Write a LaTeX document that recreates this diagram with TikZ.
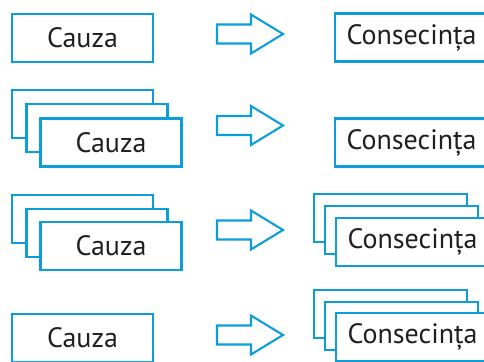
\documentclass[tikz,border=0pt]{standalone}
\usepackage{fontspec}
\setmainfont{PT Sans}
\definecolor{boxblue}{RGB}{12,158,218}
\definecolor{txt}{RGB}{35,31,32}
\tikzset{
  cbox/.style={draw=boxblue, line width=2.1pt, fill=white, minimum width=141pt, minimum height=48pt, inner sep=0pt, text=txt, font=\fontsize{28}{30}\selectfont},
  kbox/.style={cbox, minimum width=153pt},
  blockarrow/.pic={\draw[draw=boxblue, line width=2.1pt, line join=miter] (-33,-9.5) -- (1,-9.5) -- (1,-19.5) -- (33,0) -- (1,19.5) -- (1,9.5) -- (-33,9.5) -- cycle;}
}
\begin{document}
\begin{tikzpicture}[x=1pt,y=-1pt]
\clip (0,0) rectangle (484,361);
\useasboundingbox (0,0) rectangle (484,361);
% Row 1
\node[cbox] (c1) at (82.5,38) {Cauza};
\pic at (250,34) {blockarrow};
\node[kbox] (k1) at (411.5,37.5) {Consecința};
% Row 2
\node[cbox] (c2a) at (82.5,114) {};
\node[cbox] (c2b) at (97,128) {};
\node[cbox] (c2c) at (111,142.5) {Cauza};
\pic at (250,125.5) {blockarrow};
\node[kbox] (k2) at (411.5,142.5) {Consecința};
% Row 3
\node[cbox] (c3a) at (82.5,219) {};
\node[cbox] (c3b) at (97,233) {};
\node[cbox] (c3c) at (111,246) {Cauza};
\pic at (250,230) {blockarrow};
\node[kbox] (k3a) at (390.5,218) {};
\node[kbox] (k3b) at (401.5,230) {};
\node[kbox] (k3c) at (412.5,242) {Consecința};
% Row 4
\node[cbox] (c4) at (82.5,338) {Cauza};
\pic at (250,335) {blockarrow};
\node[kbox] (k4a) at (390.5,314) {};
\node[kbox] (k4b) at (401.5,326) {};
\node[kbox] (k4c) at (412.5,337) {Consecința};
\end{tikzpicture}
\end{document}
